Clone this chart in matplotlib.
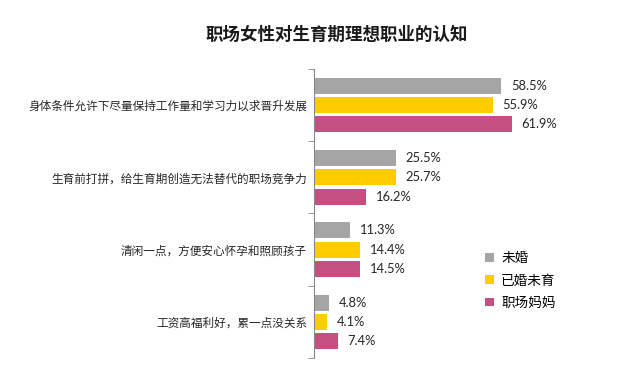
import matplotlib
matplotlib.use("Agg")
import matplotlib.pyplot as plt
import numpy as np

plt.rcParams['font.family'] = ['Noto Sans CJK SC', 'DejaVu Sans']

title = "职场女性对生育期理想职业的认知"
categories = ["身体条件允许下尽量保持工作量和学习力以求晋升发展",
              "生育前打拼，给生育期创造无法替代的职场竞争力",
              "清闲一点，方便安心怀孕和照顾孩子",
              "工资高福利好，累一点没关系"]
series_names = ["未婚", "已婚未育", "职场妈妈"]
unmarried = [58.5, 25.5, 11.3, 4.8]
married_no_child = [55.9, 25.7, 14.4, 4.1]
working_moms = [61.9, 16.2, 14.5, 7.4]
colors = ["#A5A5A5", "#FFCC00", "#C4507F"]

fig = plt.figure(figsize=(6.4, 3.69), dpi=100)
W, H = 640, 369
ax = fig.add_axes([314 / W, 1 - 358 / H, 320 / W, (358 - 69) / H])

series = [unmarried, married_no_child, working_moms]
n = len(categories)
y = np.arange(n)
bh = 0.22
step = 0.267
for i, (vals, c) in enumerate(zip(series, colors)):
    pos = y + (i - 1) * step
    ax.barh(pos, vals, height=bh, color=c, label=series_names[i])
    for p, v in zip(pos, vals):
        ax.text(v + 3, p, f"{v}%", va='center', ha='left', fontsize=9.3,
                color='#262626', family=['Lato', 'DejaVu Sans'])

ax.set_ylim(n - 0.5, -0.5)
ax.set_xlim(0, 100)
ax.set_yticks(y)
ax.set_yticklabels(categories, fontsize=8.4, color='#262626')
ax.set_yticks(np.arange(n + 1) - 0.5, minor=True)
ax.tick_params(axis='y', which='major', length=0, pad=5)
ax.tick_params(axis='y', which='minor', length=4, direction='out', color='#888888')
ax.set_xticks([])
for s in ['top', 'right', 'bottom']:
    ax.spines[s].set_visible(False)
ax.spines['left'].set_color('#888888')

leg = fig.legend(loc='upper left', bbox_to_anchor=(480 / W, 1 - 246 / H),
                 frameon=False, fontsize=9.8, handlelength=0.6, handleheight=0.6,
                 handletextpad=0.55, labelspacing=0.6, borderaxespad=0)

fig.text(337 / W, 1 - 35 / H, title, ha='center', va='center',
         fontsize=12.6, fontweight='bold', color='#1a1a1a')

fig.savefig("out.png", dpi=100)
